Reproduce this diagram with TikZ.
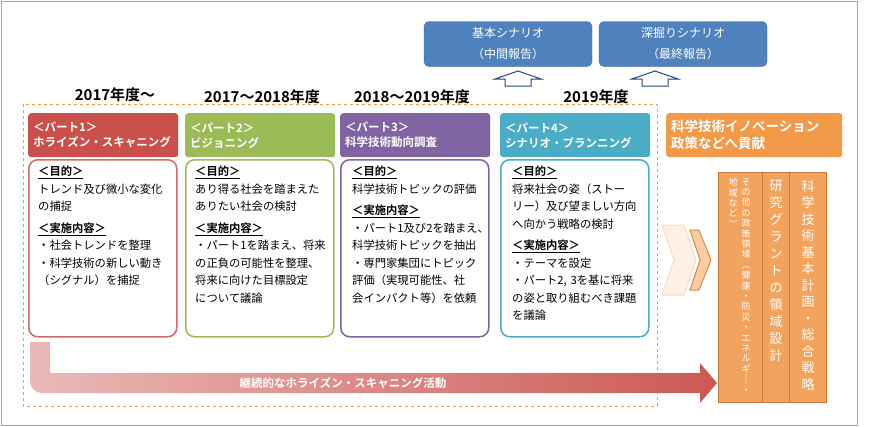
\documentclass[tikz,border=0pt]{standalone}
\usepackage{fontspec}
\setmainfont{Noto Sans CJK JP}[BoldFont={Noto Sans CJK JP Bold}]
\usetikzlibrary{positioning}
\definecolor{redp}{HTML}{C9504B}
\definecolor{greenp}{HTML}{9BBB59}
\definecolor{purplep}{HTML}{8064A2}
\definecolor{cyanp}{HTML}{4BACC6}
\definecolor{orangep}{HTML}{F39A4A}
\definecolor{bluep}{HTML}{4F81BD}
\definecolor{arrowblue}{HTML}{1F497D}
\definecolor{tatefill}{HTML}{F2A35E}
\definecolor{tateline}{HTML}{C57A3C}
\tikzset{
  head/.style={rounded corners=3pt, minimum width=150pt, minimum height=44pt, anchor=north west, text=white, font=\bfseries\fontsize{11.5}{15}\selectfont, align=left, text width=140pt, inner xsep=5pt},
  bodybox/.style={rounded corners=9pt, line width=1.5pt, fill=white, minimum width=148pt, minimum height=177pt, anchor=north west},
  body/.style={anchor=north west, inner sep=0pt, align=left, text width=142pt, font=\fontsize{11.3}{17.5}\selectfont},
  year/.style={font=\bfseries\fontsize{15}{17}\selectfont},
  scen/.style={rounded corners=5pt, fill=bluep, draw=bluep!80!black, text=white, minimum width=168pt, minimum height=45pt, align=center, font=\fontsize{12}{21}\selectfont},
  tate/.style={draw=tateline, fill=tatefill, line width=1pt, minimum height=230pt, anchor=north west, inner sep=0pt},
  tatetext/.style={text=white, align=center, inner sep=0pt, anchor=north}
}
\newcommand{\midashi}[1]{\underline{\bfseries #1}}
\begin{document}
\begin{tikzpicture}[x=1pt,y=-1pt]
\useasboundingbox (0,0) rectangle (869,426);
\draw[gray!70, line width=1pt] (1,1) rectangle (857,425);
% scenarios
\node[scen] (kihon) at (508,44) {基本シナリオ\\（中間報告）};
\node[scen] (fukabori) at (683,44) {深掘りシナリオ\\（最終報告）};
\draw[arrowblue, fill=white, line width=1pt] (505,86) -- (505,79) -- (495,79) -- (518,71) -- (541,79) -- (531,79) -- (531,86) -- cycle;
\draw[arrowblue, fill=white, line width=1pt] (642,86) -- (642,79) -- (632,79) -- (655,71) -- (678,79) -- (668,79) -- (668,86) -- cycle;
% years
\node[year] (y1) at (115,95) {2017年度～};
\node[year] (y2) at (262,97) {2017～2018年度};
\node[year] (y3) at (412,97) {2018～2019年度};
\node[year] (y4) at (596,97) {2019年度};
\draw[orangep, dashed, line width=1pt] (23,104) rectangle (657,406);
% bottom arrow
\path[left color=redp!40, right color=redp!95, draw=none]
  (30,342) -- (50,342) -- (50,373) -- (700,373) -- (700,363) -- (717,383) -- (700,403) -- (700,393)
  [rounded corners=12pt] -- (30,393) [sharp corners] -- cycle;
\node[text=white, font=\bfseries\fontsize{11.5}{13}\selectfont] (keizoku) at (343,383) {継続的なホライズン・スキャニング活動};
% parts
\node[head, fill=redp] (p1) at (28,113) {＜パート1＞\\ホライズン・スキャニング};
\node[bodybox, draw=redp!85] (b1) at (28,159) {};
\node[body] at (38,166) {\midashi{＜目的＞}\\トレンド及び微小な変化\\の捕捉\\[4pt]\midashi{＜実施内容＞}\\・社会トレンドを整理\\・科学技術の新しい動き\\（シグナル）を捕捉};
\node[head, fill=greenp] (p2) at (185,113) {＜パート2＞\\ビジョニング};
\node[bodybox, draw=greenp] (b2) at (185,159) {};
\node[body] at (195,166) {\midashi{＜目的＞}\\あり得る社会を踏まえた\\ありたい社会の検討\\[4pt]\midashi{＜実施内容＞}\\・パート1を踏まえ、将来\\の正負の可能性を整理、\\将来に向けた目標設定\\について議論};
\node[head, fill=purplep] (p3) at (340,113) {＜パート3＞\\科学技術動向調査};
\node[bodybox, draw=purplep] (b3) at (340,159) {};
\node[body] at (352,166) {\midashi{＜目的＞}\\科学技術トピックの評価\\[4pt]\midashi{＜実施内容＞}\\・パート1及び2を踏まえ、\\科学技術トピックを抽出\\・専門家集団にトピック\\評価（実現可能性、社\\会インパクト等）を依頼};
\node[head, fill=cyanp] (p4) at (500,113) {＜パート4＞\\シナリオ・プランニング};
\node[bodybox, draw=cyanp] (b4) at (500,159) {};
\node[body] at (512,166) {\midashi{＜目的＞}\\将来社会の姿（ストー\\リー）及び望ましい方向\\へ向かう戦略の検討\\[4pt]\midashi{＜実施内容＞}\\・テーマを設定\\・パート2, 3を基に将来\\の姿と取り組むべき課題\\を議論};
% chevrons
\draw[fill=orangep!15, draw=orangep!35, line width=1pt] (662,225) -- (684,225) -- (696,260) -- (684,295) -- (662,295) -- (674,260) -- cycle;
\draw[fill=orangep!50, draw=orangep!90!black, line width=1pt] (690,230) -- (699,230) -- (711,260) -- (699,290) -- (690,290) -- (700,260) -- cycle;
% contribution
\node[head, fill=orangep, minimum width=176pt, text width=166pt, font=\bfseries\fontsize{13.5}{17}\selectfont] (koken) at (666,113) {科学技術イノベーション\\政策などへ貢献};
\node[tate, minimum width=44pt] (t1) at (718,172) {};
\node[tate, minimum width=27pt] (t2) at (762,172) {};
\node[tate, minimum width=37pt] (t3) at (789,172) {};
\node[tatetext, font=\fontsize{9}{10.4}\selectfont] at (746,178) {そ\\の\\他\\の\\政\\策\\領\\域\\︵\\健\\康\\・\\防\\災\\・\\エ\\ネ\\ル\\ギ\\｜\\・};
\node[tatetext, font=\fontsize{9}{10.4}\selectfont] at (733,178) {地\\域\\な\\ど\\︶};
\node[tatetext, font=\fontsize{13}{17}\selectfont] at (776,180) {研\\究\\グ\\ラ\\ン\\ト\\の\\領\\域\\設\\計};
\node[tatetext, font=\fontsize{13}{16.5}\selectfont] at (808,180) {科\\学\\技\\術\\基\\本\\計\\画\\・\\総\\合\\戦\\略};
\end{tikzpicture}
\end{document}
